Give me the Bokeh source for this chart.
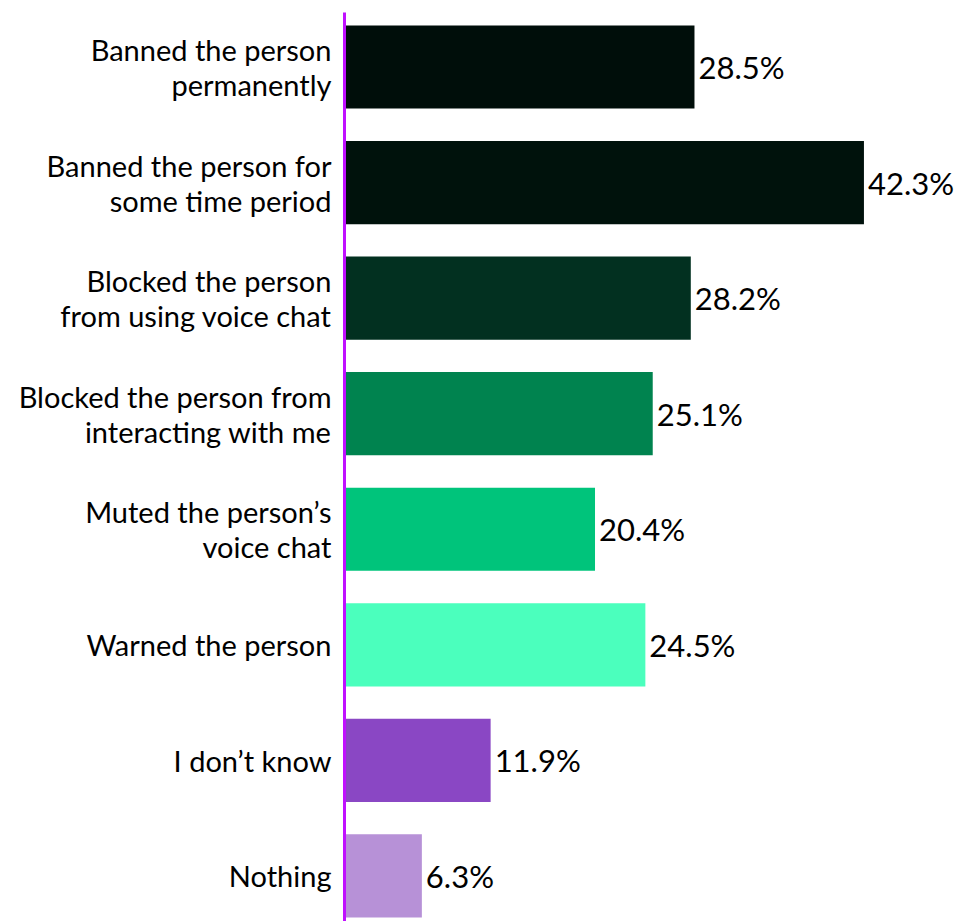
from bokeh.plotting import figure
from bokeh.models import ColumnDataSource, FixedTicker, Range1d
from bokeh.core.properties import value
from bokeh.embed import file_html
from bokeh.resources import INLINE

categories = [
    "Banned the person\npermanently",
    "Banned the person for\nsome time period",
    "Blocked the person\nfrom using voice chat",
    "Blocked the person from\ninteracting with me",
    "Muted the person\u2019s\nvoice chat",
    "Warned the person",
    "I don\u2019t know",
    "Nothing",
]
values = [28.5, 42.3, 28.2, 25.1, 20.4, 24.5, 11.9, 6.3]
colors = ["#000e0a", "#00120c", "#023020", "#00834f", "#00c47b", "#4bffbd", "#8a47c4", "#b791d7"]

n = len(categories)
ypos = [n - 1 - i for i in range(n)]
labels = [f"{v}%" for v in values]

src = ColumnDataSource(dict(y=ypos, v=values, c=colors, t=labels))

FONT = "Lato"

p = figure(width=958, height=921, output_backend="svg", toolbar_location=None,
           x_axis_location=None, x_range=Range1d(0, 50),
           y_range=Range1d(-0.394, 7.4716),
           min_border_left=344, min_border_right=0, min_border_top=12, min_border_bottom=0)
p.outline_line_color = None
p.xgrid.visible = False
p.ygrid.visible = False

p.hbar(y="y", right="v", left=0, height=0.72, fill_color="c", line_color=None, source=src)
p.text(x="v", y="y", text="t", x_offset=4, text_baseline="middle", text_align="left",
       text_font=value(FONT), text_font_size="31px", text_color="#000000", source=src)

ax = p.yaxis[0]
ax.ticker = FixedTicker(ticks=ypos)
ax.major_label_overrides = {y: c for y, c in zip(ypos, categories)}
ax.axis_line_color = "#c010ff"
ax.axis_line_width = 3
ax.major_tick_line_color = None
ax.minor_tick_line_color = None
ax.major_label_text_font = FONT
ax.major_label_text_font_size = "29px"
ax.major_label_text_line_height = 1.0
ax.major_label_text_color = "#000000"
ax.major_label_standoff = 7

open("out.html", "w").write(file_html(p, INLINE))
